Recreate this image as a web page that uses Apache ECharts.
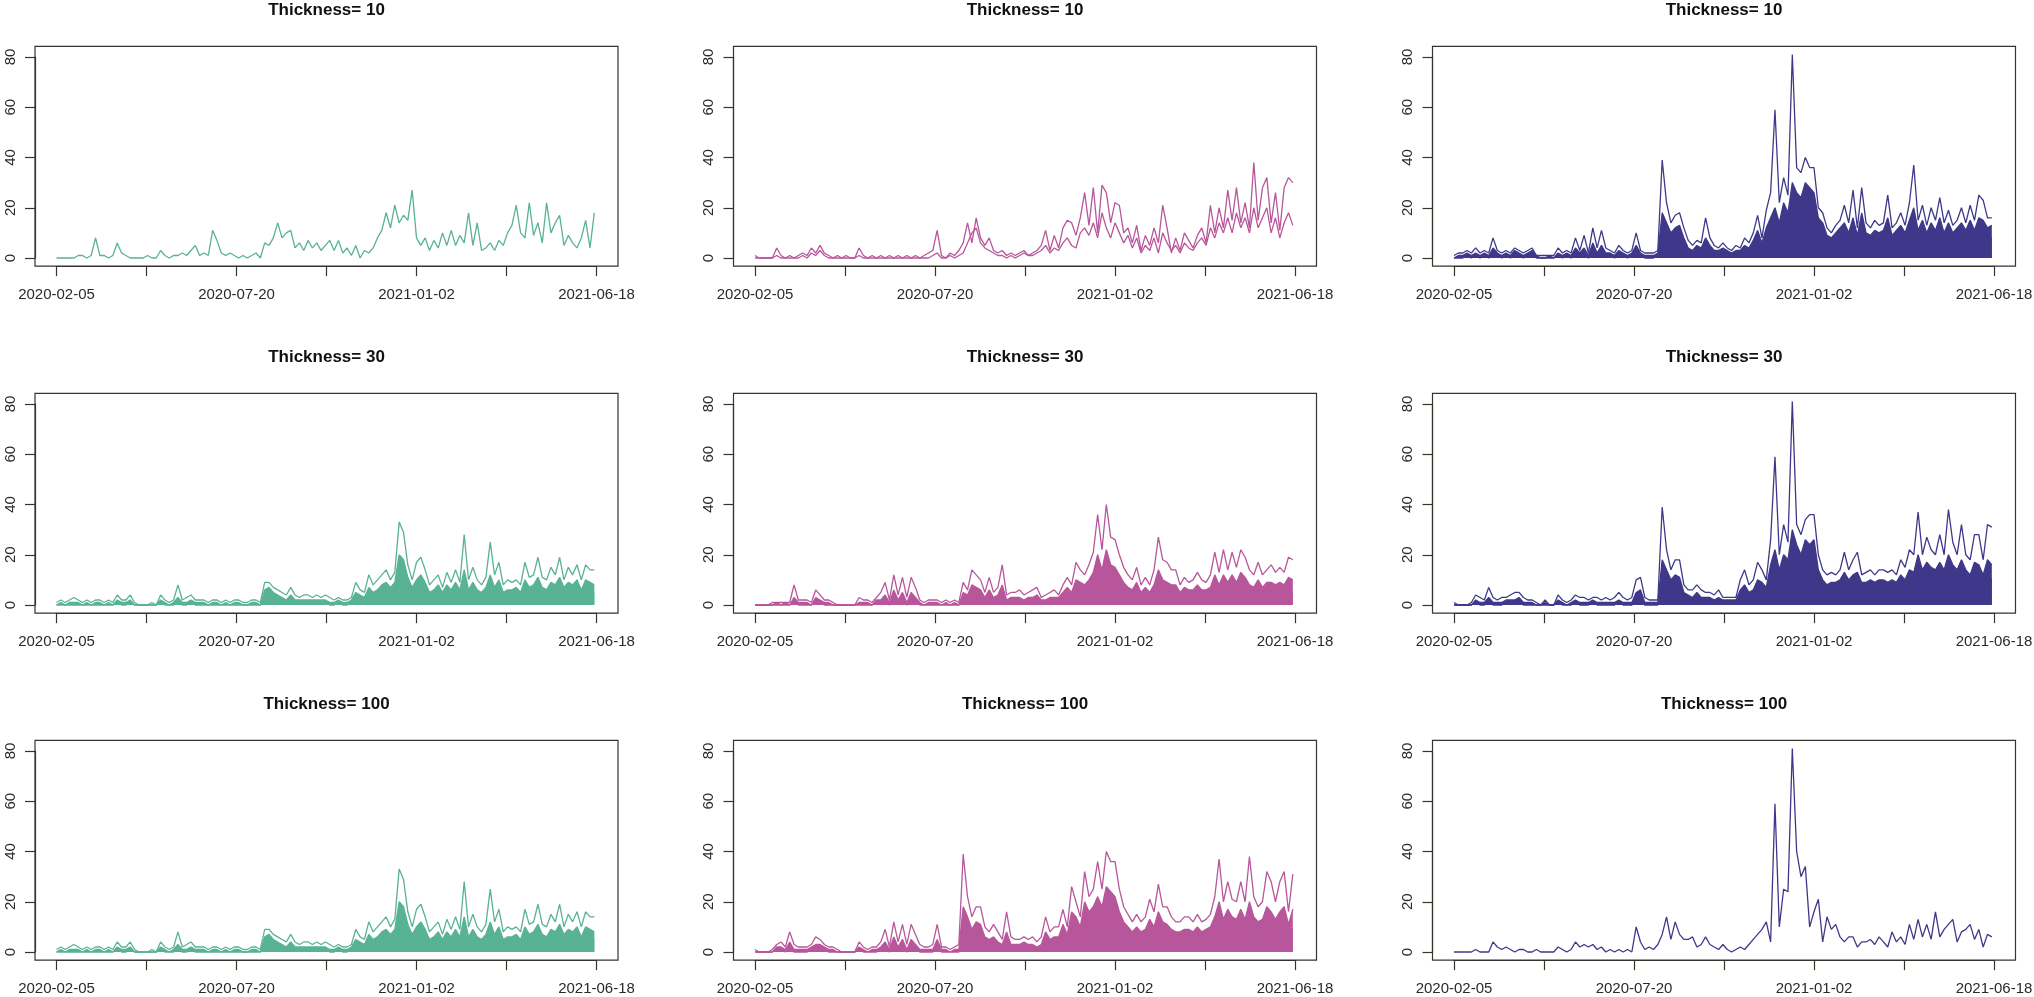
<!DOCTYPE html>
<html>
<head>
<meta charset="utf-8">
<style>
html,body{margin:0;padding:0;background:#fff;}
#c{width:2034px;height:997px;}
</style>
<script src="https://cdn.jsdelivr.net/npm/echarts@6/dist/echarts.min.js"></script>
</head>
<body>
<div id="c"></div>
<script>
// ---------- data (values read every 4 days, day 0 = 2020-02-05) ----------
const DAY_STEP = 4;
const ROW_TITLES = ['Thickness= 10', 'Thickness= 30', 'Thickness= 100'];
const X_TICK_LABELS = ['2020-02-05', '', '2020-07-20', '', '2021-01-02', '', '2021-06-18'];
const Y_TICKS = [0, 20, 40, 60, 80];

const p1 = [0,0,0,0,0,1,1,0,1,8, 1,1,0,1,6,2,1,0,0,0, 0,1,0,0,3,1,0,1,1,2, 1,3,5,1,2,1,11,7,2,1,
  2,1,0,1,0,1,2,0,6,5, 8,14,8,10,11,4,6,3,7,4, 6,3,5,7,3,7,2,4,1,5, 0,3,2,4,8,11,18,12,21,14,
  17,15,27,8,5,8,3,7,4,10, 5,11,5,9,6,18,5,14,3,4, 6,3,7,5,10,13,21,10,8,22, 9,14,6,22,10,14,17,5,9,6,
  4,8,15,4,18];

const p2a = [1,0,0,0,0,4,1,0,1,0, 1,2,1,4,2,5,2,1,0,1, 0,1,0,0,4,1,0,1,0,1, 0,1,0,1,0,1,0,1,0,1,
  2,3,11,1,0,2,1,3,6,14, 6,16,8,5,8,3,2,3,1,2, 1,2,3,1,2,3,5,11,3,9, 4,12,15,14,9,16,26,13,28,10,
  29,26,14,22,21,10,12,6,13,3, 9,5,12,6,21,12,2,8,3,10, 7,4,9,12,6,21,10,20,12,27, 15,28,14,22,12,38,15,28,32,14,
  26,11,28,32,30];
const p2b = [0,0,0,0,0,1,0,0,0,0, 0,1,0,2,1,3,1,0,0,0, 0,0,0,0,1,0,0,0,0,0, 0,0,0,0,0,0,0,0,0,0,
  0,1,2,0,0,1,0,1,2,6, 10,12,6,4,3,2,1,1,0,1, 0,1,2,1,1,2,3,5,2,4, 3,6,8,5,4,10,12,9,14,8,
  18,12,8,14,10,6,9,4,8,2, 5,3,8,2,10,6,3,5,2,6, 4,3,6,8,5,12,8,14,10,16, 10,18,12,16,10,20,12,16,20,10,
  16,8,14,18,13];

const p3core = [0,0,0,1,0,1,0,1,0,2, 1,0,1,0,1,1,0,1,1,0, 0,0,0,0,1,0,1,0,1,1, 1,0,2,1,2,1,1,0,1,1,
  0,1,2,1,0,0,0,1,8,9, 7,8,9,6,2,2,3,2,4,3, 2,2,2,2,1,2,2,3,2,4, 6,4,7,9,10,9,13,12,15,16,
  15,18,17,16,11,10,7,6,7,8, 9,7,10,7,10,7,7,8,7,7, 9,6,7,8,7,9,10,7,9,7, 9,7,10,7,9,7,8,9,7,9,
  7,9,9,8,8];
const p3mid = [0,1,1,2,1,2,1,2,1,4, 2,1,2,1,3,2,1,2,3,1, 0,0,1,0,2,1,2,1,4,2, 4,1,6,2,5,2,2,1,3,2,
  1,2,5,2,1,1,1,2,18,14, 10,12,13,8,4,3,5,4,8,5, 3,3,4,3,2,3,3,5,4,7, 11,6,12,16,20,14,22,18,30,26,
  24,30,28,26,16,14,9,8,10,12, 14,10,16,9,18,10,9,11,10,11, 16,9,11,13,10,15,20,11,15,10, 14,11,16,10,14,10,12,14,11,15,
  11,16,15,12,13];
const p3top = [1,2,2,3,2,4,2,3,2,8, 3,2,3,2,4,3,2,3,4,1, 1,1,1,1,4,2,3,2,8,3, 9,2,12,4,11,4,3,2,5,3,
  2,3,10,3,2,2,2,3,39,22, 14,17,18,12,7,5,7,6,16,8, 5,4,6,4,3,5,4,8,6,10, 17,8,19,26,59,22,32,25,81,36,
  34,40,36,36,20,18,12,10,13,15, 21,14,27,12,28,14,12,15,13,14, 25,12,14,18,13,22,37,15,21,13, 20,15,24,14,19,13,15,20,14,21,
  15,25,23,16,16];

const p4core = [0,0,0,0,0,0,0,0,0,0, 0,0,0,0,1,0,0,1,0,0, 0,0,0,0,1,0,0,0,1,0, 0,1,0,0,0,0,0,0,0,0,
  0,0,0,0,0,0,0,0,4,4, 3,3,2,1,2,1,1,1,1,1, 1,1,1,0,0,1,0,0,1,2, 2,2,4,3,4,5,6,5,6,10,
  9,7,5,6,7,5,3,4,5,3, 5,4,5,4,6,4,5,4,3,4, 6,4,5,3,4,4,4,3,5,4, 5,6,4,4,5,5,6,4,5,5,
  5,4,5,5,5];
const p4mid = [0,1,0,1,1,1,0,1,0,1, 1,0,1,0,2,1,1,2,0,0, 0,0,0,0,2,1,0,1,3,1, 1,2,1,1,1,0,1,1,0,1,
  0,1,1,0,0,1,1,0,6,7, 5,4,3,2,4,2,2,2,2,2, 2,2,2,1,1,2,1,1,2,5, 4,3,7,5,6,8,9,7,9,20,
  18,11,7,10,12,9,5,6,8,5, 8,6,9,6,14,6,9,6,5,7, 12,7,10,5,6,6,7,5,10,7, 8,11,7,6,9,8,11,7,9,8,
  10,6,10,9,8];
const p4top = [1,2,1,2,3,2,1,2,1,2, 2,1,2,1,4,2,2,4,1,0, 0,0,1,0,4,2,1,2,8,2, 3,4,2,2,2,1,2,2,1,2,
  1,2,2,1,1,2,2,1,9,9, 7,6,5,4,7,4,3,4,4,3, 4,3,4,3,2,3,2,2,3,9, 6,5,12,8,10,12,14,10,13,33,
  29,16,10,17,19,14,8,10,12,7, 13,9,14,9,28,10,15,10,8,11, 25,12,17,8,10,9,10,8,17,11, 12,19,11,10,15,12,19,10,15,12,
  16,10,16,14,14];

const p5core = [0,0,0,0,0,0,0,0,0,1, 0,0,0,0,1,1,0,0,0,0, 0,0,0,0,0,0,0,0,1,1, 1,0,2,1,2,0,2,1,0,0,
  0,0,0,0,0,0,0,0,2,2, 4,3,3,1,3,1,2,3,1,1, 1,1,1,1,1,2,1,1,1,1, 2,3,4,3,5,5,5,6,7,10,
  8,11,9,8,7,5,4,3,5,3, 4,3,4,6,5,5,4,4,3,4, 3,4,5,3,3,4,6,4,6,5, 6,5,6,6,5,4,5,4,5,5,
  4,5,4,5,5];
const p5mid = [0,0,0,0,0,1,0,1,0,3, 1,1,1,0,3,2,1,1,0,0, 0,0,0,0,1,1,1,0,2,2, 4,1,6,2,5,1,5,3,1,0,
  1,1,1,0,1,0,1,0,5,4, 8,7,6,3,6,3,4,8,2,3, 3,3,2,3,3,4,2,2,3,3, 3,5,7,5,10,9,8,10,13,20,
  14,22,16,15,12,9,7,6,9,5, 7,5,8,14,10,9,8,8,5,7, 6,6,8,6,6,7,12,8,12,9, 12,9,13,11,8,7,10,7,9,9,
  8,9,8,11,10];
const p5top = [0,0,0,0,1,1,1,1,1,8, 2,2,2,1,6,4,2,2,1,0, 0,0,0,0,3,2,2,1,3,5, 9,2,12,4,11,3,11,7,2,1,
  2,2,2,1,2,1,2,1,9,6, 14,12,10,5,11,5,7,16,4,5, 5,6,4,5,6,7,3,4,5,6, 4,8,11,8,17,14,12,16,21,36,
  22,40,27,26,20,15,12,10,15,8, 11,8,14,27,18,17,14,14,8,11, 9,10,13,10,9,12,21,13,22,14, 21,15,22,19,14,12,17,12,14,16,
  13,15,13,19,18];

const p6core = [0,0,0,0,0,1,0,0,1,0, 0,0,1,1,1,1,0,0,0,0, 0,0,0,0,1,0,0,0,1,0, 0,0,1,0,0,0,0,0,1,0,
  0,0,2,2,0,0,0,0,8,8, 6,7,6,3,2,2,3,2,2,2, 1,2,1,1,1,1,3,4,3,3, 6,5,4,9,11,9,12,11,14,14,
  12,15,14,14,9,7,6,6,6,7, 8,7,8,8,6,6,7,6,7,7, 6,7,6,8,7,9,9,11,9,10, 10,9,10,9,11,10,9,11,9,8,
  10,10,8,11,10];
const p6mid = [0,0,0,0,0,2,1,1,3,1, 1,1,2,2,2,3,1,1,1,0, 0,1,0,0,2,1,0,1,2,1, 1,1,2,1,1,1,1,1,2,1,
  1,1,5,6,1,1,1,1,18,14, 10,12,11,5,4,3,5,3,3,3, 2,3,2,2,2,2,6,8,5,6, 10,9,7,16,22,14,20,18,30,24,
  20,26,24,26,14,10,8,9,9,10, 13,10,12,13,9,9,10,9,10,10, 9,10,9,12,10,14,13,20,14,17, 15,14,17,14,20,16,14,18,14,12,
  17,16,12,18,16];
const p6top = [1,0,0,0,1,4,3,2,7,3, 2,3,3,4,5,5,3,2,2,1, 0,2,0,0,4,2,1,2,4,3, 3,2,3,3,2,3,2,3,5,3,
  2,3,10,11,3,2,2,2,39,22, 14,18,18,8,6,6,8,6,5,5, 4,6,3,3,3,3,10,14,8,10, 17,14,10,26,59,20,32,25,81,32,
  28,34,36,36,20,14,12,13,12,14, 21,14,18,21,12,13,14,12,14,14, 13,14,12,18,15,22,20,37,20,27, 22,20,28,20,38,25,20,32,20,18,
  28,28,18,32,31];

const p8core = [0,0,0,0,0,1,1,0,1,0, 0,0,0,1,1,1,1,0,0,0, 0,0,0,0,1,0,0,0,0,1, 1,0,2,1,2,0,2,1,0,0,
  0,0,2,0,0,0,0,0,8,8, 5,7,6,3,3,3,2,2,3,2, 2,2,2,2,2,1,2,4,3,3, 4,6,4,9,8,6,11,10,11,13,
  11,15,14,13,10,7,6,5,6,5, 5,7,6,8,7,6,5,5,5,5, 5,5,6,5,5,6,8,10,8,9, 8,8,10,8,10,8,7,8,9,9,
  8,9,10,7,9];
const p8mid = [0,0,0,0,0,2,2,1,4,1, 1,1,1,2,3,3,2,1,1,0, 0,0,0,0,2,1,0,1,1,2, 4,1,6,2,5,1,5,3,1,1,
  1,1,5,1,1,0,1,1,18,14, 9,12,11,6,5,6,4,3,8,3, 3,3,4,3,3,2,3,8,5,6, 6,11,7,16,14,10,20,16,18,22,
  18,26,24,22,16,12,10,8,10,8, 9,13,10,16,12,11,9,8,8,9, 9,8,10,8,9,10,14,20,13,17, 14,13,17,13,20,14,12,13,18,16,
  13,16,18,11,17];
const p8top = [1,0,0,0,1,3,4,2,8,3, 2,2,2,3,6,5,3,2,2,1, 0,0,0,0,4,2,1,2,2,4, 9,2,12,4,11,3,11,7,3,2,
  2,3,11,2,2,1,2,3,39,22, 14,18,18,10,8,11,8,5,16,6, 5,5,6,5,6,4,6,14,8,10, 10,17,10,26,20,14,32,22,25,36,
  25,40,36,36,25,18,15,12,15,12, 14,21,16,27,18,18,14,12,12,14, 14,12,15,12,13,15,22,37,20,28, 21,20,28,20,38,22,18,20,32,28,
  20,28,32,16,31];

const p9 = [0,0,0,0,0,1,0,0,0,4, 2,1,2,1,0,1,1,0,0,1, 0,0,0,0,2,1,0,1,4,2, 3,2,3,1,2,0,1,0,1,0,
  1,0,10,4,1,2,1,3,7,14, 5,12,7,5,5,6,2,3,6,3, 2,1,3,1,0,1,2,1,3,5, 7,9,12,4,59,10,25,24,81,40,
  30,34,10,16,21,4,14,9,11,6, 4,6,6,2,4,4,5,3,6,4, 2,8,4,6,3,11,5,13,6,11, 5,16,6,9,11,13,4,8,9,11,
  5,9,2,7,6];

// ---------- styling / layout ----------
const GREEN = '#58b294', MAGENTA = '#b8569b', INDIGO = '#3f388a';
const AXIS_COLOR = '#35352c';
const COL_LEFT = [56.5, 755, 1454];
const ROW_TOP = [57, 404, 751];
const DATA_W = 540, DATA_H = 201;
const PAD_X = 21.5, PAD_TOP = 10.65, PAD_BOT = 8.14;
const X_MAX = 498, X_INT = 83;
const FONT = '"Liberation Sans", Arial, Helvetica, sans-serif';

// dense panels: core + mid drawn as filled bands (the many overlapping lines), top as spiky line
const panels = [
  {r:0, c:0, color:GREEN,   lines:[p1]},
  {r:0, c:1, color:MAGENTA, lines:[p2b, p2a]},
  {r:0, c:2, color:INDIGO,  bands:[p3mid, p3core], lines:[p3top]},
  {r:1, c:0, color:GREEN,   bands:[p4mid, p4core], lines:[p4top]},
  {r:1, c:1, color:MAGENTA, bands:[p5mid, p5core], lines:[p5top]},
  {r:1, c:2, color:INDIGO,  bands:[p6mid, p6core], lines:[p6top]},
  {r:2, c:0, color:GREEN,   bands:[p4mid, p4core], lines:[p4top]},
  {r:2, c:1, color:MAGENTA, bands:[p8mid, p8core], lines:[p8top]},
  {r:2, c:2, color:INDIGO,  lines:[p9]}
];

function toXY(arr) { return arr.map((v, i) => [i * DAY_STEP, v]); }

const grid = [], xAxis = [], yAxis = [], series = [], graphic = [];

panels.forEach((p, i) => {
  const left = COL_LEFT[p.c], top = ROW_TOP[p.r];
  grid.push({left: left, top: top, width: DATA_W, height: DATA_H, outerBoundsMode: 'none', containLabel: false});
  xAxis.push({
    type: 'value', gridIndex: i, min: 0, max: X_MAX, interval: X_INT, offset: PAD_BOT,
    axisLine: {show: true, onZero: false, lineStyle: {color: AXIS_COLOR, width: 1.2}},
    axisTick: {show: true, length: 10, lineStyle: {color: AXIS_COLOR, width: 1.2}},
    splitLine: {show: false},
    axisLabel: {
      show: true, margin: 21, fontSize: 15, color: '#2a2a2a', fontFamily: FONT,
      showMinLabel: true, showMaxLabel: true, hideOverlap: false,
      formatter: v => X_TICK_LABELS[Math.round(v / X_INT)] || ''
    }
  });
  yAxis.push({
    type: 'value', gridIndex: i, min: Y_TICKS[0], max: Y_TICKS[Y_TICKS.length - 1], interval: 20, offset: PAD_X,
    axisLine: {show: true, onZero: false, lineStyle: {color: AXIS_COLOR, width: 1.2}},
    axisTick: {show: true, length: 10, lineStyle: {color: AXIS_COLOR, width: 1.2}},
    splitLine: {show: false},
    axisLabel: {show: true, rotate: 90, margin: 17, fontSize: 15, color: '#2a2a2a', fontFamily: FONT,
      showMinLabel: true, showMaxLabel: true}
  });
  (p.bands || []).forEach(arr => {
    series.push({
      type: 'line', xAxisIndex: i, yAxisIndex: i, data: toXY(arr), symbol: 'none', showSymbol: false,
      clip: false, silent: true, animation: false,
      lineStyle: {color: p.color, width: 1.3}, areaStyle: {color: p.color, opacity: 1}
    });
  });
  p.lines.forEach(arr => {
    series.push({
      type: 'line', xAxisIndex: i, yAxisIndex: i, data: toXY(arr), symbol: 'none', showSymbol: false,
      clip: false, silent: true, animation: false,
      lineStyle: {color: p.color, width: 1.3}
    });
  });
  graphic.push({
    type: 'rect', silent: true, z: 50,
    shape: {x: left - PAD_X, y: top - PAD_TOP, width: DATA_W + 2 * PAD_X, height: DATA_H + PAD_TOP + PAD_BOT},
    style: {fill: 'none', stroke: AXIS_COLOR, lineWidth: 1.2}
  });
  graphic.push({
    type: 'text', silent: true, z: 50,
    x: left + DATA_W / 2, y: top - 47,
    style: {text: ROW_TITLES[p.r], fill: '#111', font: 'bold 17px ' + FONT, align: 'center', verticalAlign: 'middle'}
  });
});

const chart = echarts.init(document.getElementById('c'), null, {renderer: 'canvas'});
chart.setOption({
  animation: false,
  backgroundColor: '#ffffff',
  grid: grid, xAxis: xAxis, yAxis: yAxis, series: series, graphic: graphic
});
</script>
</body>
</html>
